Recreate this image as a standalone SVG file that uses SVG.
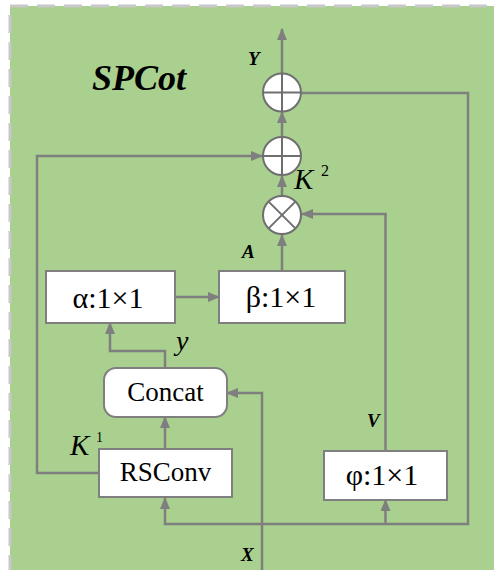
<svg xmlns="http://www.w3.org/2000/svg" width="494" height="570" viewBox="0 0 494 570">
<style>
.ln{fill:none;stroke:#7f7f7f;stroke-width:2.5}
.bx{fill:#fff;stroke:#7f7f7f;stroke-width:2}
.op{fill:#fff;stroke:#6f6f6f;stroke-width:2}
.t{font-family:"Liberation Serif","Times New Roman",serif;fill:#000}
.bt{font-family:"Liberation Serif","Times New Roman",serif;font-size:30px;text-anchor:middle;fill:#000}
.lb{font-family:"Liberation Serif","Times New Roman",serif;font-style:italic;font-weight:bold;font-size:19px;fill:#000}
</style>
<defs>
<marker id="ah" viewBox="0 0 12 10" refX="11" refY="5" markerWidth="12" markerHeight="10" markerUnits="userSpaceOnUse" orient="auto">
<path d="M0,0 L12,5 L0,10 z" fill="#7f7f7f"/>
</marker>
</defs>
<rect x="10" y="6" width="500" height="580" fill="#a9d08e" stroke="#c8c8c8" stroke-width="3" stroke-dasharray="18,9"/>
<text class="t" x="92" y="90" font-size="36" font-weight="bold" font-style="italic">SPCot</text>
<g id="connectors">
<path class="ln" d="M282,73 V29" marker-end="url(#ah)"/>
<path class="ln" d="M282,137 V112" marker-end="url(#ah)"/>
<path class="ln" d="M282,195 V176" marker-end="url(#ah)"/>
<path class="ln" d="M282,271 V235" marker-end="url(#ah)"/>
<path class="ln" d="M175,297 H219" marker-end="url(#ah)"/>
<path class="ln" d="M165,368 V351 H110 V323" marker-end="url(#ah)"/>
<path class="ln" d="M165,448 V417" marker-end="url(#ah)"/>
<path class="ln" d="M262,570 V393 H227" marker-end="url(#ah)"/>
<path class="ln" d="M99,473 H37 V156 H262" marker-end="url(#ah)"/>
<path class="ln" d="M385.5,451 V214 H302" marker-end="url(#ah)"/>
<path class="ln" d="M302,93 H468 V524 H165 V498" marker-end="url(#ah)"/>
<path class="ln" d="M385.5,524 V500" marker-end="url(#ah)"/>
</g>
<g id="add_top">
<circle class="op" cx="282" cy="92.5" r="19"/>
<path class="op" d="M263,92.5 H301 M282,73.5 V111.5"/>
</g>
<g id="add_mid">
<circle class="op" cx="282" cy="156" r="19"/>
<path class="op" d="M263,156 H301 M282,137 V175"/>
</g>
<g id="mul">
<circle class="op" cx="282" cy="215" r="19"/>
<path class="op" d="M268.6,201.6 L295.4,228.4 M295.4,201.6 L268.6,228.4"/>
</g>
<g id="alpha">
<rect class="bx" x="46" y="271" width="129" height="52"/>
<text class="bt" x="108" y="307.5">α:1×1</text>
</g>
<g id="beta">
<rect class="bx" x="219" y="271" width="126" height="52"/>
<text class="bt" x="281" y="307">β:1×1</text>
</g>
<g id="concat">
<rect class="bx" x="104" y="368" width="123" height="49" rx="12"/>
<text class="t" x="165.5" y="401" font-size="27" text-anchor="middle">Concat</text>
</g>
<g id="rsconv">
<rect class="bx" x="99" y="449" width="133" height="48"/>
<text class="t" x="165.5" y="481" font-size="27" text-anchor="middle">RSConv</text>
</g>
<g id="phi">
<rect class="bx" x="324" y="451" width="123" height="49"/>
<text class="bt" x="382" y="485">φ:1×1</text>
</g>
<g id="labels">
<text class="lb" x="248" y="65">Y</text>
<text class="lb" x="242" y="258">A</text>
<text class="lb" x="367" y="427">V</text>
<text class="lb" x="241" y="561">X</text>
<text class="t" x="176" y="350" font-size="28" font-style="italic">y</text>
<text class="t" x="294" y="189" font-size="29" font-style="italic">K</text>
<text class="t" x="321" y="176" font-size="16">2</text>
<text class="t" x="70" y="455" font-size="29" font-style="italic">K</text>
<text class="t" x="96" y="442" font-size="14">1</text>
</g>
</svg>
